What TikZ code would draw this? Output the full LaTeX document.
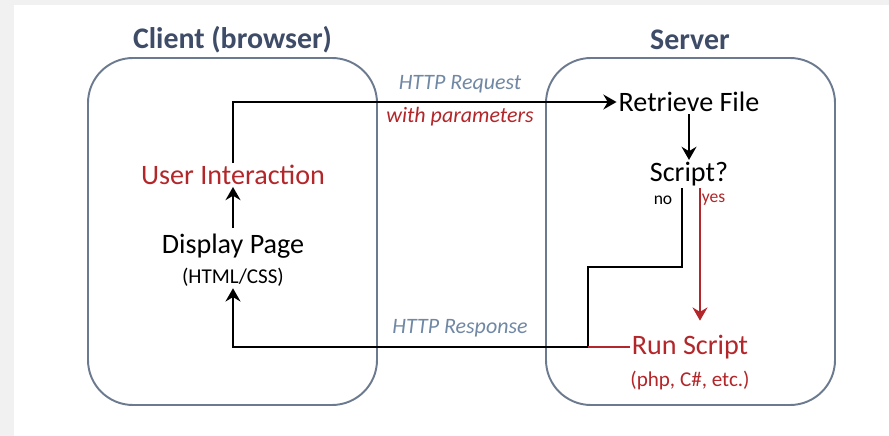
\documentclass[tikz,border=0pt]{standalone}
\usepackage{fontspec}
\setmainfont{Carlito}
\usepackage{tikz}
\usetikzlibrary{arrows.meta,calc}
\definecolor{titleblue}{HTML}{3E4C68}
\definecolor{boxgray}{HTML}{6B7A8F}
\definecolor{labelblue}{HTML}{7088A4}
\definecolor{darkred}{HTML}{B3262A}
\definecolor{framegray}{HTML}{F1F1F1}
\tikzstyle{arrow} = [line width=1.6pt,-{Stealth[length=7.5pt,width=8.5pt,inset=2.5pt]}]
\tikzstyle{redarrow} = [line width=1.3pt,-{Stealth[length=7.5pt,width=8.5pt,inset=2.5pt]},darkred]
\tikzstyle{plainline} = [line width=1.6pt]
\tikzstyle{panel} = [draw=boxgray,line width=1.1pt,rounded corners=0.9cm,minimum width=5.78cm,minimum height=6.94cm]
\tikzstyle{title} = [font=\fontsize{17}{20}\selectfont\bfseries,text=titleblue]
\tikzstyle{stepbox} = [font=\fontsize{16}{19}\selectfont,inner sep=1pt]
\tikzstyle{note} = [font=\fontsize{12}{14}\selectfont,inner sep=1pt]
\tikzstyle{msg} = [font=\fontsize{12.5}{15}\selectfont\itshape,text=labelblue,inner sep=1pt]

\begin{document}
\begin{tikzpicture}   % client / server request cycle

        \useasboundingbox (0,0) rectangle (17.78,-8.72);
        \fill[framegray] (0,0) rectangle (17.78,-8.72);
        \fill[white] (0.28,-0.11) rectangle (17.78,-8.72);

        % Client and Server panels
        \node[panel] (client) at (4.65,-4.63) {};
        \node[panel] (server) at (13.81,-4.63) {};
        \node[title] (clienttitle) at (4.65,-0.8) {Client (browser)};
        \node[title] (servertitle) at (13.8,-0.8) {Server};

        % Client side steps
        \node[stepbox,text=darkred] (user) at (4.66,-3.5) {User Interaction};
        \node[stepbox] (display) at (4.66,-4.92) {Display Page};
        \node[note] (displaynote) at (4.66,-5.54) {(HTML/CSS)};

        % Server side steps
        \node[stepbox] (retrieve) at (13.78,-2.04) {Retrieve File};
        \node[stepbox] (script) at (13.78,-3.48) {Script?};
        \node[stepbox,text=darkred] (run) at (13.8,-6.94) {Run Script};
        \node[note,text=darkred] (runnote) at (13.8,-7.6) {(php, C\#, etc.)};
        \node[note,font=\fontsize{10}{12}\selectfont] (no) at (13.26,-4.0) {no};
        \node[note,font=\fontsize{10}{12}\selectfont,text=darkred] (yes) at (14.27,-4.0) {yes};

        % Messages between the panels
        \node[msg] (request) at (9.2,-1.68) {HTTP Request};
        \node[msg,text=darkred] (params) at (9.2,-2.34) {with parameters};
        \node[msg] (response) at (9.2,-6.56) {HTTP Response};

        % Turning points of the lines
        \coordinate (notop) at (13.64,-3.76);
        \coordinate (nobend) at (11.76,-5.34);
        \coordinate (join) at (11.76,-6.94);
        \coordinate (yestop) at (14.0,-3.76);

        % Connectors
        \draw[arrow] (user.north) |- (retrieve.west);                % request
        \draw[arrow] (retrieve.south) -- (script.north);              % File -> Script?
        \draw[arrow] ([yshift=2pt]display.north) -- (user.south);    % Display -> User
        \draw[redarrow,shorten >=7pt] (yestop) -- (yestop |- run.north); % yes -> Run Script
        \draw[plainline] (notop) |- (nobend) -- (join);               % no
        \draw[line width=1.2pt,darkred] (run.west) -- (join);
        \draw[arrow] (join) -| (displaynote.south);                   % response

\end{tikzpicture}
\end{document}
